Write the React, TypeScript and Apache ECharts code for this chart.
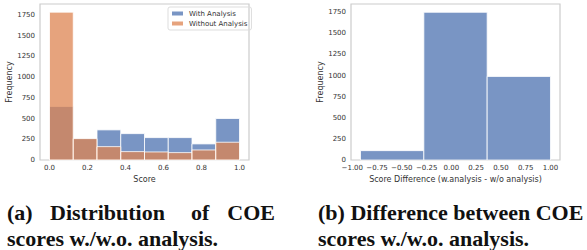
import React, { useEffect, useRef } from "react";
import * as echarts from "echarts";

// ---- data ----
const scoreBinEdges = [0, 0.125, 0.25, 0.375, 0.5, 0.625, 0.75, 0.875, 1.0];
const withAnalysis = [645, 258, 363, 318, 270, 270, 194, 500];
const withoutAnalysis = [1782, 258, 161, 101, 97, 89, 121, 214];

const diffBinEdges = [-0.917, -0.278, 0.361, 1.0];
const diffCounts = [111, 1750, 990];

const scoreTicks = [0, 0.2, 0.4, 0.6, 0.8, 1.0];
const diffTicks = [-1, -0.75, -0.5, -0.25, 0, 0.25, 0.5, 0.75, 1];
const freqTicks = [0, 250, 500, 750, 1000, 1250, 1500, 1750];

const seriesNames = ["With Analysis", "Without Analysis"];
const BLUE = "rgba(76,114,176,0.75)";
const ORANGE = "rgba(221,132,82,0.75)";

const FONT = "DejaVu Sans";
const SERIF = "Liberation Serif";

function toBins(edges: number[], counts: number[]) {
  return counts.map((c, i) => [edges[i], edges[i + 1], c]);
}

function histRender(color: string) {
  return (params: any, api: any) => {
    const x0 = api.value(0);
    const x1 = api.value(1);
    const y = api.value(2);
    const p0 = api.coord([x0, y]);
    const p1 = api.coord([x1, 0]);
    return {
      type: "rect",
      shape: { x: p0[0], y: p0[1], width: p1[0] - p0[0], height: p1[1] - p0[1] },
      style: { fill: color, stroke: "rgba(255,255,255,0.8)", lineWidth: 1 },
    };
  };
}

const axisLabelBase = { fontFamily: FONT, fontSize: 7, color: "#333" };
const nameStyle = { fontFamily: FONT, fontSize: 8, color: "#333" };

export default function App() {
  const ref = useRef<HTMLDivElement>(null);
  useEffect(() => {
    if (!ref.current) return;
    const chart = echarts.init(ref.current, undefined, { renderer: "svg" });
    const captionStyle = { fontFamily: SERIF, fontWeight: "bold", fontSize: 22, fill: "#111" };
    chart.setOption({
      animation: false,
      grid: [
        { left: 40, top: 4, width: 209, height: 156, show: true, borderColor: "#cccccc", borderWidth: 1.2, containLabel: false },
        { left: 351, top: 4, width: 209, height: 156, show: true, borderColor: "#cccccc", borderWidth: 1.2, containLabel: false },
      ],
      legend: {
        data: seriesNames,
        orient: "vertical",
        left: 168,
        top: 7,
        padding: [3, 4, 3, 4],
        itemWidth: 11,
        itemHeight: 4,
        itemGap: 3,
        icon: "rect",
        borderColor: "#dddddd",
        borderWidth: 1,
        borderRadius: 2,
        textStyle: { fontFamily: FONT, fontSize: 7, color: "#333", padding: [0, 0, 0, 1] },
      },
      xAxis: [
        {
          type: "value",
          gridIndex: 0,
          min: -0.05,
          max: 1.05,
          name: "Score",
          nameLocation: "middle",
          nameGap: 11,
          nameTextStyle: nameStyle,
          axisLine: { show: false },
          axisTick: { show: false },
          splitLine: { show: false },
          axisLabel: { ...axisLabelBase, margin: 4, customValues: scoreTicks, formatter: (v: number) => v.toFixed(1) },
        },
        {
          type: "value",
          gridIndex: 1,
          min: -1.013,
          max: 1.096,
          name: "Score Difference (w.analysis - w/o analysis)",
          nameLocation: "middle",
          nameGap: 11,
          nameTextStyle: nameStyle,
          axisLine: { show: false },
          axisTick: { show: false },
          splitLine: { show: false },
          axisLabel: {
            ...axisLabelBase,
            margin: 4,
            customValues: diffTicks,
            formatter: (v: number) => (v < 0 ? "\u2212" : "") + Math.abs(v).toFixed(2),
          },
        },
      ],
      yAxis: [
        {
          type: "value",
          gridIndex: 0,
          min: 0,
          max: 1880,
          name: "Frequency",
          nameLocation: "middle",
          nameGap: 27,
          nameTextStyle: nameStyle,
          axisLine: { show: false },
          axisTick: { show: false },
          splitLine: { show: false },
          axisLabel: { ...axisLabelBase, margin: 5, customValues: freqTicks, formatter: (v: number) => String(v) },
        },
        {
          type: "value",
          gridIndex: 1,
          min: 0,
          max: 1848,
          name: "Frequency",
          nameLocation: "middle",
          nameGap: 27,
          nameTextStyle: nameStyle,
          axisLine: { show: false },
          axisTick: { show: false },
          splitLine: { show: false },
          axisLabel: { ...axisLabelBase, margin: 5, customValues: freqTicks, formatter: (v: number) => String(v) },
        },
      ],
      series: [
        {
          name: seriesNames[0],
          type: "custom",
          xAxisIndex: 0,
          yAxisIndex: 0,
          itemStyle: { color: BLUE },
          encode: { x: [0, 1], y: 2 },
          data: toBins(scoreBinEdges, withAnalysis),
          renderItem: histRender(BLUE),
        },
        {
          name: seriesNames[1],
          type: "custom",
          xAxisIndex: 0,
          yAxisIndex: 0,
          itemStyle: { color: ORANGE },
          encode: { x: [0, 1], y: 2 },
          data: toBins(scoreBinEdges, withoutAnalysis),
          renderItem: histRender(ORANGE),
        },
        {
          name: "Difference",
          type: "custom",
          xAxisIndex: 1,
          yAxisIndex: 1,
          itemStyle: { color: BLUE },
          encode: { x: [0, 1], y: 2 },
          data: toBins(diffBinEdges, diffCounts),
          renderItem: histRender(BLUE),
        },
      ],
      graphic: [
        { type: "text", left: 7, top: 201, style: { ...captionStyle, text: "(a)" } },
        { type: "text", left: 50, top: 201, style: { ...captionStyle, text: "Distribution" } },
        { type: "text", left: 191, top: 201, style: { ...captionStyle, text: "of" } },
        { type: "text", right: 312, top: 201, style: { ...captionStyle, text: "COE" } },
        { type: "text", left: 7, top: 227, style: { ...captionStyle, text: "scores w./w.o. analysis." } },
        { type: "text", left: 318, top: 201, style: { ...captionStyle, text: "(b) Difference between COE" } },
        { type: "text", left: 318, top: 227, style: { ...captionStyle, text: "scores w./w.o. analysis." } },
      ],
    });
    return () => chart.dispose();
  }, []);
  return (
    <div
      ref={ref}
      style={{ position: "absolute", left: 0, top: 0, width: 587, height: 250, background: "#fff" }}
    />
  );
}
